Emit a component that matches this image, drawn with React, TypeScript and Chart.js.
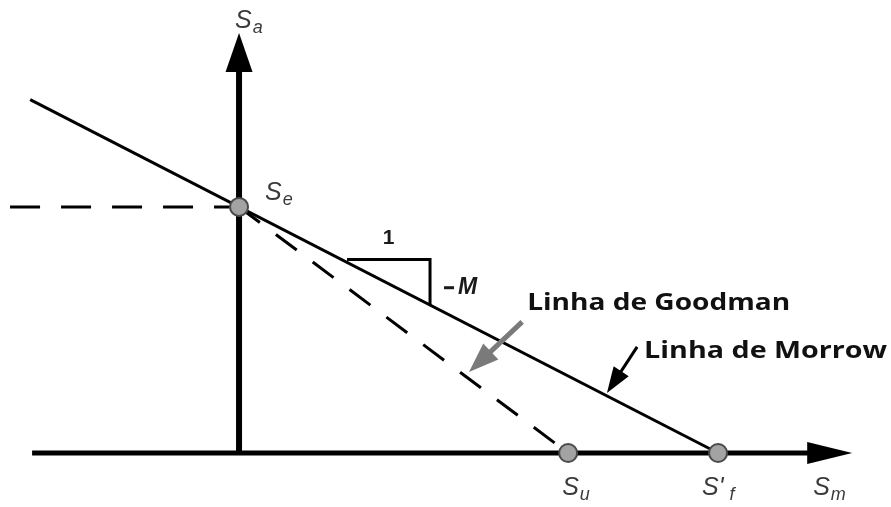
import { useEffect, useRef } from 'react';
import { Chart, registerables } from 'chart.js';

Chart.register(...registerables);

// Mean stress Sm (scaled so that S'f = 1) and alternating stress Sa (scaled so that Se = 1)
const morrowSm = [-0.436, 1.0];
const morrowSa = [1.436, 0];
const goodmanSm = [0, 0.687];
const goodmanSa = [1, 0];
const enduranceGuideSm = [-0.478, 0];
const enduranceGuideSa = [1, 1];

const keyPointNames = ['e', 'u', 'f'];
const keyPointSm = [0, 0.687, 1.0];
const keyPointSa = [1, 0, 0];

// Axis extents (arrow tips at the far end)
const smAxisRange = [-0.432, 1.28];
const saAxisRange = [0, 1.707];

// Slope triangle along the Morrow line (run 1, rise -M)
const slopeRunSm = [0.2255, 0.3987];

// Callout arrows: [fromSm, fromSa, toSm, toSa]
const goodmanCallout = [0.591, 0.533, 0.48, 0.329];
const morrowCallout = [0.831, 0.431, 0.768, 0.244];

const calloutTexts = ['Linha de Goodman', 'Linha de Morrow'];
const calloutWidths = [263, 243];

const smView = [-0.499, 1.361];
const saView = [-0.2195, 1.841];

const toPoints = (xs: number[], ys: number[]) => xs.map((x, i) => ({ x, y: ys[i] }));

function morrowAt(sm: number) {
  const t = (sm - morrowSm[0]) / (morrowSm[1] - morrowSm[0]);
  return morrowSa[0] + t * (morrowSa[1] - morrowSa[0]);
}

function arrowHead(
  ctx: CanvasRenderingContext2D,
  fx: number, fy: number, tx: number, ty: number,
  len: number, half: number, color: string,
) {
  const a = Math.atan2(ty - fy, tx - fx);
  const bx = tx - Math.cos(a) * len;
  const by = ty - Math.sin(a) * len;
  ctx.save();
  ctx.fillStyle = color;
  ctx.beginPath();
  ctx.moveTo(tx, ty);
  ctx.lineTo(bx + Math.sin(a) * half, by - Math.cos(a) * half);
  ctx.lineTo(bx - Math.sin(a) * half, by + Math.cos(a) * half);
  ctx.closePath();
  ctx.fill();
  ctx.restore();
}

function symbol(
  ctx: CanvasRenderingContext2D, x: number, y: number,
  main: string, sub: string,
) {
  ctx.save();
  ctx.fillStyle = '#3a3a3a';
  ctx.textBaseline = 'alphabetic';
  ctx.textAlign = 'left';
  ctx.font = 'italic 25px "Liberation Sans", Arial, sans-serif';
  ctx.fillText(main, x, y);
  const w = ctx.measureText(main).width;
  ctx.font = 'italic 18px "Liberation Sans", Arial, sans-serif';
  ctx.fillText(sub, x + w + 1, y + 5);
  ctx.restore();
}

function fittedText(ctx: CanvasRenderingContext2D, text: string, x: number, y: number, width: number) {
  ctx.save();
  ctx.fillStyle = '#111';
  ctx.font = 'bold 24px "Open Sans", sans-serif';
  ctx.textAlign = 'left';
  ctx.textBaseline = 'alphabetic';
  const w = ctx.measureText(text).width;
  ctx.translate(x, y);
  ctx.scale(width / w, 1);
  ctx.fillText(text, 0, 0);
  ctx.restore();
}

export default function App() {
  const ref = useRef<HTMLCanvasElement>(null);

  useEffect(() => {
    const canvas = ref.current;
    if (!canvas) return;

    const axesPlugin = {
      id: 'haighAxes',
      beforeDatasetsDraw(chart: any) {
        const { ctx } = chart;
        const xs = chart.scales.x;
        const ys = chart.scales.y;
        const ox = xs.getPixelForValue(0);
        const oy = ys.getPixelForValue(0);
        ctx.save();
        ctx.strokeStyle = '#000';
        ctx.lineCap = 'butt';
        // Sm axis
        const hx0 = xs.getPixelForValue(smAxisRange[0]);
        const hx1 = xs.getPixelForValue(smAxisRange[1]);
        ctx.lineWidth = 5;
        ctx.beginPath();
        ctx.moveTo(hx0, oy);
        ctx.lineTo(hx1 - 40, oy);
        ctx.stroke();
        arrowHead(ctx, hx0, oy, hx1, oy, 45, 11, '#000');
        // Sa axis
        const vy0 = ys.getPixelForValue(saAxisRange[0]);
        const vy1 = ys.getPixelForValue(saAxisRange[1]);
        ctx.lineWidth = 6;
        ctx.beginPath();
        ctx.moveTo(ox, vy0 + 2);
        ctx.lineTo(ox, vy1 + 34);
        ctx.stroke();
        arrowHead(ctx, ox, vy0, ox, vy1, 39, 13.5, '#000');
        ctx.restore();
      },
      afterDatasetsDraw(chart: any) {
        const { ctx } = chart;
        const xs = chart.scales.x;
        const ys = chart.scales.y;
        const px = (v: number) => xs.getPixelForValue(v);
        const py = (v: number) => ys.getPixelForValue(v);

        // Slope triangle
        const x1 = px(slopeRunSm[0]);
        const x2 = px(slopeRunSm[1]);
        const yTop = py(morrowAt(slopeRunSm[0])) - 3;
        const yBot = py(morrowAt(slopeRunSm[1]));
        ctx.save();
        ctx.strokeStyle = '#000';
        ctx.lineWidth = 3;
        ctx.beginPath();
        ctx.moveTo(x1, yTop);
        ctx.lineTo(x2, yTop);
        ctx.lineTo(x2, yBot);
        ctx.stroke();
        ctx.fillStyle = '#1a1a1a';
        ctx.font = 'bold 21px "Liberation Sans", Arial, sans-serif';
        ctx.textAlign = 'center';
        ctx.textBaseline = 'alphabetic';
        ctx.fillText('1', (x1 + x2) / 2, yTop - 15);
        // "−M" label for the rise
        const midY = (yTop + yBot) / 2 + 12;
        ctx.fillRect(x2 + 14, midY - 8, 10, 3);
        ctx.textAlign = 'left';
        ctx.font = 'bold italic 23px "Liberation Sans", Arial, sans-serif';
        ctx.fillText('M', x2 + 28, midY);
        ctx.restore();

        // Callout arrows
        const drawCallout = (c: number[], color: string, w: number, len: number, half: number) => {
          const fx = px(c[0]);
          const fy = py(c[1]);
          const tx = px(c[2]);
          const ty = py(c[3]);
          const a = Math.atan2(ty - fy, tx - fx);
          ctx.save();
          ctx.strokeStyle = color;
          ctx.lineWidth = w;
          ctx.beginPath();
          ctx.moveTo(fx, fy);
          ctx.lineTo(tx - Math.cos(a) * (len - 2), ty - Math.sin(a) * (len - 2));
          ctx.stroke();
          ctx.restore();
          arrowHead(ctx, fx, fy, tx, ty, len, half, color);
        };
        drawCallout(goodmanCallout, '#7a7a7a', 5, 30, 11);
        drawCallout(morrowCallout, '#000', 3, 26, 9);

        // Callout texts
        fittedText(ctx, calloutTexts[0], px(goodmanCallout[0]) + 5, py(goodmanCallout[1]) - 12, calloutWidths[0]);
        fittedText(ctx, calloutTexts[1], px(morrowCallout[0]) + 7, py(morrowCallout[1]) + 11, calloutWidths[1]);

        // Axis and point symbols
        const ox = px(0);
        const oy = py(0);
        symbol(ctx, ox - 4, py(saAxisRange[1]) - 5, 'S', 'a');
        symbol(ctx, px(smAxisRange[1]) - 39, oy + 42, 'S', 'm');
        symbol(ctx, px(keyPointSm[0]) + 26, py(keyPointSa[0]) - 7, 'S', keyPointNames[0]);
        symbol(ctx, px(keyPointSm[1]) - 6, py(keyPointSa[1]) + 42, 'S', keyPointNames[1]);
        symbol(ctx, px(keyPointSm[2]) - 16, py(keyPointSa[2]) + 42, "S'", ' ' + keyPointNames[2]);
      },
    };

    const chart = new Chart(canvas, {
      type: 'scatter',
      data: {
        datasets: [
          {
            label: 'Pontos',
            data: toPoints(keyPointSm, keyPointSa),
            pointRadius: 9,
            pointBorderWidth: 2,
            pointBackgroundColor: '#a3a3a3',
            pointBorderColor: '#4a4a4a',
            showLine: false,
          },
          {
            label: 'Morrow',
            data: toPoints(morrowSm, morrowSa),
            showLine: true,
            borderColor: '#000',
            borderWidth: 3,
            pointRadius: 0,
          },
          {
            label: 'Goodman',
            data: toPoints(goodmanSm, goodmanSa),
            showLine: true,
            borderColor: '#000',
            borderWidth: 3,
            borderDash: [26, 20],
            pointRadius: 0,
          },
          {
            label: 'Se',
            data: toPoints(enduranceGuideSm, enduranceGuideSa),
            showLine: true,
            borderColor: '#000',
            borderWidth: 3,
            borderDash: [30, 21],
            pointRadius: 0,
          },
        ],
      },
      options: {
        responsive: false,
        animation: false,
        layout: { padding: 0, autoPadding: false },
        plugins: {
          legend: { display: false },
          tooltip: { enabled: false },
          title: { display: false },
        },
        scales: {
          x: { type: 'linear', min: smView[0], max: smView[1], display: false },
          y: { type: 'linear', min: saView[0], max: saView[1], display: false },
        },
        elements: { line: { tension: 0 } },
      },
      plugins: [axesPlugin],
    });

    return () => chart.destroy();
  }, []);

  return (
    <div style={{ position: 'fixed', left: 0, top: 0, width: 891, height: 507, background: '#fff' }}>
      <canvas ref={ref} width={891} height={507} style={{ display: 'block' }} />
    </div>
  );
}
